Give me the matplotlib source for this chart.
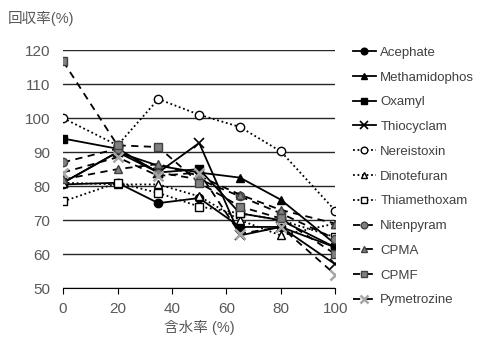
import matplotlib
matplotlib.use("Agg")
from matplotlib import pyplot as plt

plt.rcParams['font.family'] = ['Liberation Sans', 'Noto Sans CJK JP', 'DejaVu Sans']

# 含水率
x = [0, 20, 35, 50, 65, 80, 100]

acephate = [80.5, 81, 75, 76.5, 68, 68, 62]
methamidophos = [81, 90, 86, 84, 82.5, 76, 63]
oxamyl = [94, 91, 84, 85, 72, 70, 62]
thiocyclam = [81, 90, 84, 92.7, 65.5, 68, 57]
nereistoxin = [100, 92, 105.6, 101, 97.4, 90.2, 72.8]
dinotefuran = [81, 80.5, 80.5, 77, 70, 65.5, 69]
thiamethoxam = [75.5, 81, 78, 74, 72, 70, 65]
nitenpyram = [87, 91, 84, 82, 77, 72, 64.5]
cpma = [82, 85, 86.5, 83, 77.5, 73, 69]
cpmf = [116.7, 92, 91.5, 81, 74, 70.5, 60]
pymetrozine = [84, 88.5, 83, 84, 66, 68, 54]

labels = ["Acephate", "Methamidophos", "Oxamyl", "Thiocyclam", "Nereistoxin",
          "Dinotefuran", "Thiamethoxam", "Nitenpyram", "CPMA", "CPMF", "Pymetrozine"]
series = [acephate, methamidophos, oxamyl, thiocyclam, nereistoxin, dinotefuran,
          thiamethoxam, nitenpyram, cpma, cpmf, pymetrozine]

gray = "#808080"
dot = (0, (1, 1.5))
dash = (0, (4, 3))
styles = [
    dict(ls="-", marker="o", mfc="black", mec="black"),
    dict(ls="-", marker="^", mfc="black", mec="black"),
    dict(ls="-", marker="s", mfc="black", mec="black"),
    dict(ls="-", marker="x", mfc="black", mec="black", mew=1.2),
    dict(ls=dot, marker="o", mfc="white", mec="black"),
    dict(ls=dot, marker="^", mfc="white", mec="black"),
    dict(ls=dot, marker="s", mfc="white", mec="black"),
    dict(ls=dash, marker="o", mfc=gray, mec="#404040"),
    dict(ls=dash, marker="^", mfc=gray, mec="#404040"),
    dict(ls=dash, marker="s", mfc=gray, mec="#404040"),
    dict(ls=dash, marker="x", mfc="#a6a6a6", mec="#a6a6a6", mew=1.8),
]

fig = plt.figure(figsize=(4.93, 3.41), dpi=100)
ax = fig.add_axes([0.128, 0.155, 0.552, 0.698])

for y, lab, st in zip(series, labels, styles):
    ms = 7 if st["marker"] == "x" else 6
    ax.plot(x, y, color="black", linewidth=1.3, markersize=ms, label=lab, **st)

ax.set_xlim(0, 100)
ax.set_ylim(50, 120)
ax.set_xticks(range(0, 101, 20))
ax.set_yticks(range(50, 121, 10))
ax.grid(axis="y", color="#262626", linewidth=1.0)
ax.set_axisbelow(True)
for s in ["top", "right", "left"]:
    ax.spines[s].set_visible(False)
ax.spines["bottom"].set_color("black")
ax.tick_params(axis="y", length=0, labelsize=11, labelcolor="#595959", pad=9)
ax.tick_params(axis="x", length=4, direction="out", labelsize=11, labelcolor="#595959",
               color="black", pad=6)

ax.set_xlabel("含水率 (%)", fontsize=10.5, color="#595959", labelpad=3)
fig.text(0.016, 0.945, "回収率(%)", fontsize=10.5, color="#595959", va="center")

ax.legend(loc="upper left", bbox_to_anchor=(1.02, 1.065), frameon=False,
          fontsize=9.5, labelcolor="#404040", handlelength=1.8, labelspacing=0.95,
          handletextpad=0.3, markerscale=0.8)

fig.savefig("out.png", dpi=100)
